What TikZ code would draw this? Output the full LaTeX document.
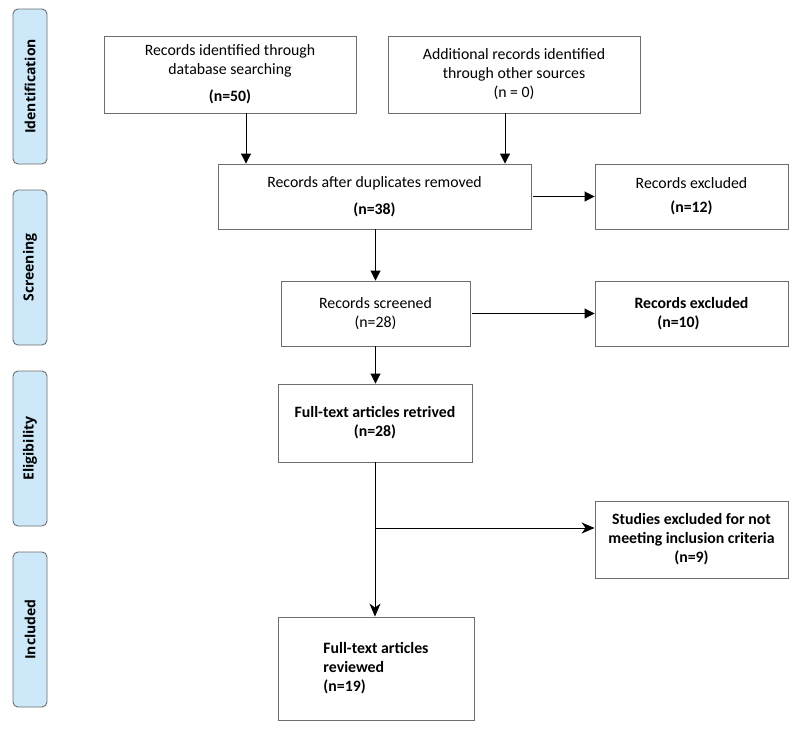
\documentclass[tikz,border=0pt]{standalone}
\usepackage{fontspec}
\setmainfont{Carlito}
\newfontfamily\bandfont{Open Sans}
\usetikzlibrary{positioning,arrows.meta}

\definecolor{bandBlue}{HTML}{CDE8F9}
\definecolor{edgeGray}{HTML}{6E6E6E}

\def \lineWidth {0.9pt}
\def \boxFont {\fontsize{15.8}{19}\selectfont}

\begin{document}
\begin{tikzpicture}[x=1pt, y=-1pt,
    box/.style={draw=edgeGray, line width=\lineWidth, align=center, inner sep=0pt, font=\boxFont},
    boldbox/.style={box, font=\boxFont\bfseries},
    band/.style={draw=edgeGray, fill=bandBlue, line width=\lineWidth, rounded corners=5pt,
      rotate=90, minimum width=155pt, minimum height=34pt, inner sep=0pt,
      font=\bandfont\bfseries\fontsize{14}{16}\selectfont},
    arr/.style={-{Triangle[length=10pt,width=10pt]}, line width=\lineWidth},
    arrs/.style={-{Stealth[length=13pt,width=11pt,inset=4pt]}, line width=\lineWidth}]
  \useasboundingbox (0,0) rectangle (800,753);

  \node[band] (ident) at (30,86.5) {Identification};
  \node[band] (screen) at (30,267.5) {Screening};
  \node[band] (elig) at (30,448.5) {Eligibility};
  \node[band] (incl) at (30,629.5) {Included};

  \node[box, minimum width=252pt, minimum height=77pt] (dbRecords) at (230,74.5)
    {Records identified through\\database searching\\[8pt]\textbf{(n=50)}};
  \node[box, minimum width=252pt, minimum height=77pt] (otherRecords) at (514,74.5)
    {Additional records identified\\through other sources\\(n = 0)};
  \node[box, minimum width=313pt, minimum height=65pt] (dedup) at (374.5,196.5)
    {Records after duplicates removed\\[8pt]\textbf{(n=38)}};
  \node[box, minimum width=193pt, minimum height=65pt] (excludedA) at (691.5,196.5)
    {Records excluded\\[5pt]\textbf{(n=12)}};
  \node[box, minimum width=189pt, minimum height=65pt] (screened) at (375.5,313.5)
    {Records screened\\(n=28)};
  \node[boldbox, minimum width=193pt, minimum height=65pt] (excludedB) at (691.5,313.5)
    {Records excluded\\(n=10)\hspace*{26pt}};
  \node[boldbox, minimum width=194pt, minimum height=78pt] (retrieved) at (375,423)
    {Full-text articles retrived\\(n=28)};
  \node[boldbox, minimum width=193pt, minimum height=77pt] (studiesExcl) at (691.5,539.5)
    {Studies excluded for not\\meeting inclusion criteria\\(n=9)};
  \node[boldbox, minimum width=196pt, minimum height=103pt, align=left] (reviewed) at (376,668.5)
    {Full-text articles\\reviewed\\(n=19)};

  \coordinate (dbOut) at ([xshift=16pt]dbRecords.south);
  \coordinate (otherOut) at ([xshift=-9pt]otherRecords.south);
  \draw[arr] (dbOut) -- (dbOut |- dedup.north);
  \draw[arr] (otherOut) -- (otherOut |- dedup.north);
  \draw[arr] ([xshift=2pt]dedup.east) -- (excludedA.west);
  \draw[arr] (screened.north |- dedup.south) -- (screened.north);
  \draw[arr] ([xshift=2pt]screened.east) -- (excludedB.west);
  \draw[arr] (screened.south) -- (screened.south |- retrieved.north);

  \coordinate (split) at ([yshift=11.5pt]retrieved.south |- studiesExcl.west);
  \draw[arrs] (retrieved.south) -- (retrieved.south |- reviewed.north);
  \draw[arrs] (split) -- (studiesExcl.west |- split);
\end{tikzpicture}
\end{document}
